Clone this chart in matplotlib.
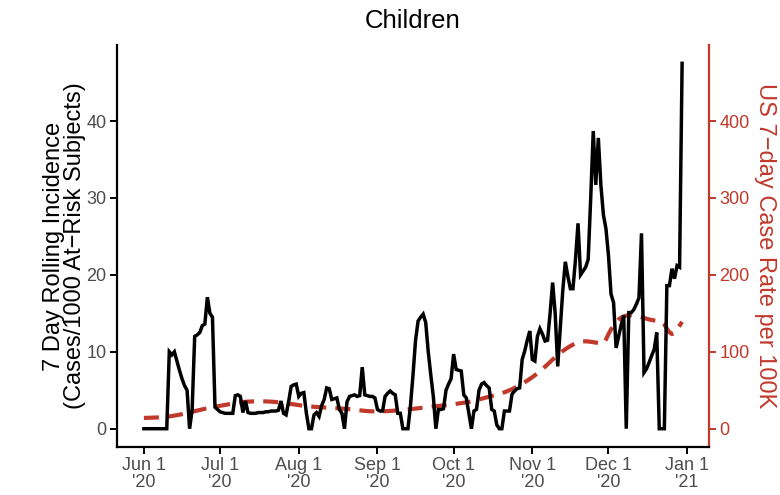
import numpy as np
import pandas as pd
import matplotlib
matplotlib.use("Agg")
import matplotlib.pyplot as plt
import matplotlib.dates as mdates

plt.rcParams['font.family'] = ['Liberation Sans', 'DejaVu Sans']

#==========================
# DATA
#==========================
dates = pd.date_range("2020-06-01", "2020-12-30", freq="D")

# 7 day rolling incidence, children (cases / 1000 at-risk)
incidence = [
    0, 0, 0, 0, 0, 0, 0,
    0, 0, 0, 10.0, 9.6, 10.0, 8.8,
    7.6, 6.5, 5.6, 5.0, 0.0, 2.5, 12.0,
    12.2, 12.5, 13.4, 13.6, 17.1, 15.0, 14.5,
    2.8, 2.5, 2.2, 2.1, 2.0, 2.0, 2.0,
    2.0, 4.3, 4.4, 4.2, 2.1, 3.6, 2.1,
    2.0, 2.0, 2.0, 2.1, 2.1, 2.1, 2.2,
    2.2, 2.3, 2.3, 2.3, 2.4, 3.6, 2.0,
    1.8, 3.5, 5.5, 5.7, 5.8, 4.2, 4.6,
    4.7, 2.0, 0.0, 0.0, 1.8, 2.1, 1.6,
    3.0, 3.8, 5.3, 5.2, 3.8, 3.9, 4.0,
    2.5, 2.0, 0.0, 3.5, 4.2, 4.3, 4.4,
    4.2, 4.3, 8.0, 4.4, 4.3, 4.2, 4.2,
    4.0, 2.5, 2.3, 2.3, 4.2, 4.6, 4.9,
    4.6, 4.4, 2.0, 2.0, 0.0, 0.0, 0.0,
    3.0, 7.0, 11.5, 14.0, 14.5, 14.9, 13.8,
    10.0, 7.0, 4.2, 0.0, 2.5, 2.5, 2.6,
    5.0, 5.8, 6.5, 9.7, 7.7, 7.6, 7.5,
    4.4, 4.0, 2.0, 0.0, 2.3, 2.5, 5.0,
    5.8, 6.0, 5.6, 5.3, 2.5, 2.3, 0.5,
    0.0, 0.0, 2.3, 2.3, 2.3, 4.5, 4.9,
    5.2, 5.3, 9.0, 10.1, 11.5, 12.7, 9.0,
    8.8, 12.0, 13.0, 12.3, 11.4, 11.5, 15.0,
    19.0, 15.0, 8.1, 13.0, 18.0, 21.7, 19.8,
    18.2, 18.2, 22.0, 26.7, 20.0, 20.5, 21.0,
    22.0, 30.0, 38.7, 31.7, 37.8, 31.7, 27.8,
    26.0, 22.5, 17.5, 16.4, 10.5, 12.0, 13.5,
    14.7, 0.0, 15.1, 15.1, 15.5, 16.2, 17.0,
    25.4, 7.3, 7.8, 8.6, 9.5, 10.3, 12.5,
    0.0, 0.0, 0.0, 18.6, 18.6, 20.8, 19.5,
    21.2, 21.0, 47.5,
]

# US 7-day case rate per 100K
us_rate = [
    14.0, 14.1, 14.2, 14.3, 14.4, 14.5, 14.7,
    15.0, 15.3, 15.6, 16.0, 16.5, 17.0, 17.6,
    18.2, 18.9, 19.6, 20.4, 21.2, 22.0, 22.8,
    23.6, 24.4, 25.2, 26.0, 26.7, 27.4, 28.0,
    28.6, 29.2, 29.8, 30.4, 31.0, 31.6, 32.2,
    32.8, 33.3, 33.8, 34.2, 34.6, 35.0, 35.2,
    35.4, 35.5, 35.6, 35.6, 35.6, 35.6, 35.5,
    35.4, 35.2, 35.0, 34.7, 34.4, 34.0, 33.6,
    33.1, 32.6, 32.1, 31.6, 31.1, 30.6, 30.1,
    29.7, 29.3, 29.0, 28.7, 28.5, 28.3, 28.1,
    27.9, 27.7, 27.5, 27.3, 27.1, 26.9, 26.7,
    26.5, 26.3, 26.0, 25.7, 25.4, 25.1, 24.7,
    24.3, 23.9, 23.5, 23.2, 22.9, 22.7, 22.6,
    22.5, 22.5, 22.5, 22.6, 22.7, 22.9, 23.1,
    23.3, 23.5, 23.8, 24.1, 24.4, 24.7, 25.0,
    25.4, 25.8, 26.2, 26.6, 27.0, 27.4, 27.8,
    28.2, 28.6, 29.0, 29.3, 29.6, 29.9, 30.2,
    30.5, 30.9, 31.3, 31.8, 32.3, 32.8, 33.3,
    33.8, 34.3, 34.8, 35.5, 36.3, 37.2, 38.1,
    39.0, 39.9, 40.8, 41.7, 42.5, 43.3, 44.0,
    44.8, 46.0, 47.3, 48.6, 50.0, 51.4, 53.0,
    54.7, 56.5, 58.4, 60.4, 62.5, 64.7, 67.0,
    69.5, 72.0, 74.7, 77.5, 80.5, 83.6, 86.8,
    90.0, 93.0, 95.8, 98.5, 101.0, 103.3, 105.5,
    107.5, 109.3, 110.8, 112.0, 113.0, 113.5, 113.6,
    113.4, 113.0, 112.5, 112.0, 111.5, 111.0, 110.5,
    116.0, 123.0, 129.0, 134.0, 138.5, 142.0, 144.5,
    146.0, 147.0, 147.3, 147.3, 147.0, 146.5, 145.8,
    145.0, 144.0, 143.0, 142.0, 141.3, 140.7, 140.2,
    139.8, 139.0, 135.5, 130.0, 125.5, 123.0, 124.5,
    129.0, 134.0, 139.0,
]

tick_dates = pd.date_range("2020-06-01", "2021-01-01", freq="MS")
tick_labels = ["Jun 1\n'20", "Jul 1\n'20", "Aug 1\n'20", "Sep 1\n'20",
               "Oct 1\n'20", "Nov 1\n'20", "Dec 1\n'20", "Jan 1\n'21"]

RED = '#C0392B'
GREY = '#4D4D4D'

#==========================
# PLOT
#==========================
fig = plt.figure(figsize=(7.8, 4.95), dpi=100)
ax = fig.add_axes([0.150, 0.097, 0.759, 0.812])
ax2 = ax.twinx()

ax2.plot(dates, us_rate, color=RED, lw=3.0, dashes=(3.6, 2.2), zorder=1)
ax.plot(dates, incidence, color='black', lw=2.5, solid_joinstyle='miter', zorder=3)
ax.set_zorder(ax2.get_zorder() + 1)
ax.patch.set_visible(False)

# x range with 5% padding on each side
x0 = mdates.date2num(dates[0])
x1 = mdates.date2num(dates[-1])
pad = 0.05 * (x1 - x0)
ax.set_xlim(x0 - pad, x1 + pad)

ymax = 47.5
ax.set_ylim(-0.05 * ymax, 1.05 * ymax)
ax2.set_ylim(-0.05 * ymax * 10, 1.05 * ymax * 10)

ax.set_xticks(tick_dates)
ax.set_xticklabels(tick_labels)
ax.set_yticks([0, 10, 20, 30, 40])
ax2.set_yticks([0, 100, 200, 300, 400])

for a in (ax, ax2):
    a.spines['top'].set_visible(False)
    for s in a.spines.values():
        s.set_linewidth(1.6)

ax.spines['right'].set_visible(False)
ax2.spines['left'].set_visible(False)
ax2.spines['bottom'].set_visible(False)
ax2.spines['right'].set_color(RED)

ax.tick_params(axis='both', length=5, width=1.4, color='black',
               labelsize=13, labelcolor=GREY, pad=2.5)
ax2.tick_params(axis='y', length=5, width=1.4, color=RED,
                labelsize=13, labelcolor=RED, pad=2.5)
for lbl in ax.get_xticklabels():
    lbl.set_linespacing(1.0)

ax.set_ylabel("7 Day Rolling Incidence\n(Cases/1000 At\u2212Risk Subjects)",
              fontsize=17, linespacing=0.95)
ax.yaxis.set_label_coords(-0.052, 0.5)
ax2.set_ylabel("US 7\u2212day Case Rate per 100K", fontsize=17,
               color=RED, rotation=270, labelpad=19)
ax.set_title("Children", fontsize=18.5, pad=12)

fig.savefig("out.png", dpi=100)
